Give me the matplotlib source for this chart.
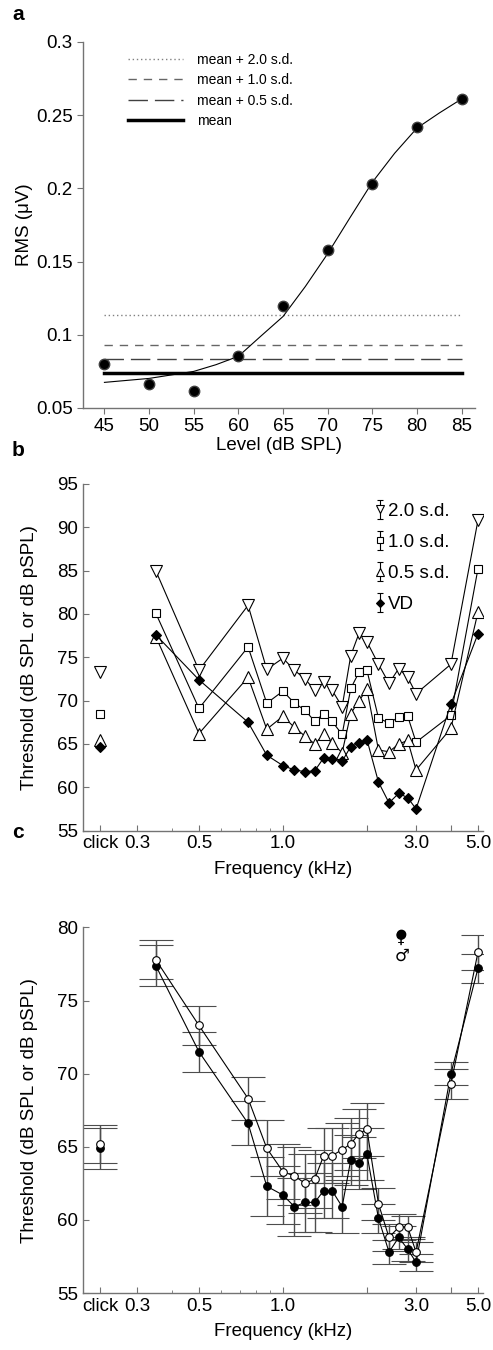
import numpy as np
import matplotlib
matplotlib.use('Agg')
import matplotlib.pyplot as plt
from matplotlib.ticker import FixedLocator, FormatStrFormatter

plt.rcParams['font.family'] = ['Liberation Sans', 'DejaVu Sans']
plt.rcParams['font.size'] = 13.5

# ---- panel a : RMS vs level ----
levels = [45, 50, 55, 60, 65, 70, 75, 80, 85]
rms = [0.0803, 0.0664, 0.0614, 0.0857, 0.1194, 0.1577, 0.2030, 0.2417, 0.2611]
fit_levels = [45, 50, 55, 57.5, 60, 62.5, 65, 67.5, 70, 72.5, 75, 77.5, 80, 82.5, 85]
fit_rms = [0.0675, 0.0702, 0.0750, 0.0796, 0.0853, 0.0990, 0.1125, 0.1330, 0.1554,
           0.1800, 0.2042, 0.2240, 0.2412, 0.2515, 0.2611]
crit_labels = ['mean + 2.0 s.d.', 'mean + 1.0 s.d.', 'mean + 0.5 s.d.', 'mean']
crit_values = [0.1133, 0.0933, 0.0835, 0.0739]

# ---- panel b : thresholds by criterion ----
freqs = [0.35, 0.5, 0.75, 0.875, 1.0, 1.1, 1.2, 1.3, 1.4, 1.5, 1.63, 1.75, 1.875,
         2.0, 2.2, 2.4, 2.6, 2.8, 3.0, 4.0, 5.0]
click_x = 0.221
sd20 = [85.0, 73.5, 81.0, 73.6, 74.9, 73.5, 72.5, 71.2, 72.1, 71.2, 69.3, 75.2, 77.8,
        76.8, 74.2, 72.0, 73.7, 72.7, 70.8, 74.2, 90.8]
sd10 = [80.1, 69.1, 76.2, 69.7, 71.1, 69.7, 68.9, 67.6, 68.5, 67.6, 66.1, 71.4, 73.3,
        73.5, 68.0, 67.4, 68.1, 68.2, 65.2, 68.3, 85.2]
sd05 = [77.4, 66.2, 72.7, 66.7, 68.2, 66.9, 65.9, 65.0, 66.1, 65.1, 64.0, 68.5, 70.0,
        71.3, 64.3, 64.1, 65.0, 65.4, 62.0, 66.8, 80.2]
vd = [77.6, 72.4, 67.5, 63.7, 62.5, 62.0, 61.8, 61.9, 63.4, 63.3, 63.0, 64.7, 65.1,
      65.5, 60.6, 58.2, 59.3, 58.8, 57.5, 69.6, 77.7]
click_b = [73.3, 68.4, 65.4, 64.7]   # 2.0, 1.0, 0.5 s.d., VD

# ---- panel c : female vs male ----
fem = [77.4, 71.5, 66.6, 62.3, 61.7, 60.9, 61.2, 61.2, 62.0, 62.0, 60.9, 64.1, 63.9,
       64.5, 60.1, 57.8, 58.8, 58.0, 57.1, 70.0, 77.2]
fem_err = [1.4, 1.35, 1.5, 2.0, 2.0, 2.0, 2.0, 2.0, 1.9, 1.9, 1.8, 1.7, 1.8,
           1.8, 1.0, 0.8, 0.8, 0.8, 0.6, 0.8, 1.0]
male = [77.8, 73.3, 68.3, 64.9, 63.3, 63.0, 62.5, 62.8, 64.4, 64.4, 64.8, 65.2, 65.9,
        66.2, 61.1, 58.8, 59.5, 59.5, 57.8, 69.3, 78.3]
male_err = [1.35, 1.35, 1.5, 1.9, 1.9, 2.0, 2.0, 2.0, 1.9, 1.9, 1.8, 1.8, 1.7,
            1.8, 1.1, 0.9, 0.9, 0.8, 0.7, 1.0, 1.2]
click_fem, click_fem_err = 64.9, 1.4
click_male, click_male_err = 65.2, 1.3

freq_ticks = [click_x, 0.3, 0.5, 1.0, 2.0, 3.0, 4.0, 5.0]
freq_ticklabels = ['click', '0.3', '0.5', '1.0', '', '3.0', '', '5.0']
freq_minor = [0.4, 0.6, 0.7, 0.8, 0.9]

spine_col = '0.45'

fig = plt.figure(figsize=(4.93, 13.5), dpi=100)
W, H = 493.0, 1350.0


def add_ax(l, r, t, b):
    return fig.add_axes([l / W, 1 - b / H, (r - l) / W, (b - t) / H])


def style(ax, direction):
    for s in ['top', 'right']:
        ax.spines[s].set_visible(False)
    for s in ['left', 'bottom']:
        ax.spines[s].set_color(spine_col)
        ax.spines[s].set_linewidth(1.0)
    ax.tick_params(which='both', direction=direction, color=spine_col, labelsize=13.5)
    ax.tick_params(which='major', length=4)
    ax.tick_params(which='minor', length=2.5)


def freq_axis(ax):
    ax.set_xscale('log')
    ax.set_xlim(0.192, 5.2)
    ax.xaxis.set_major_locator(FixedLocator(freq_ticks))
    ax.set_xticklabels(freq_ticklabels)
    ax.xaxis.set_minor_locator(FixedLocator(freq_minor))
    ax.xaxis.set_minor_formatter(plt.NullFormatter())
    ax.set_xlabel('Frequency (kHz)', fontsize=13.5, labelpad=6)
    ax.set_ylabel('Threshold (dB SPL or dB pSPL)', fontsize=13.5, labelpad=14)


# ===== a =====
ax = add_ax(83, 475, 42, 408)
style(ax, 'out')
styles = [dict(color='0.5', lw=1.0, ls=(0, (1, 2))),
          dict(color='0.4', lw=1.0, ls=(0, (6, 5))),
          dict(color='0.25', lw=1.0, ls=(0, (14, 5))),
          dict(color='black', lw=2.5, ls='-')]
for lab, val, st in zip(crit_labels, crit_values, styles):
    ax.plot([levels[0], levels[-1]], [val, val], label=lab, **st)
ax.plot(fit_levels, fit_rms, color='black', lw=0.8)
ax.plot(levels, rms, 'o', color='black', ms=7.5, mec='0.25')
ax.set_xlim(42.6, 86.5)
ax.set_ylim(0.05, 0.3)
ax.set_xticks(levels)
ax.set_yticks([0.05, 0.1, 0.15, 0.2, 0.25, 0.3])
ax.yaxis.set_major_formatter(FormatStrFormatter('%g'))
ax.set_xlabel('Level (dB SPL)', fontsize=13.5, labelpad=1)
ax.set_ylabel('RMS (\u03bcV)', fontsize=13.5, labelpad=2)
ax.legend(loc='upper left', bbox_to_anchor=(0.1, 0.985), frameon=False, fontsize=10,
          handlelength=4.0, handletextpad=1.0, labelspacing=0.45, borderaxespad=0)

# ===== b =====
ax = add_ax(83, 482.7, 484, 830.6)
style(ax, 'in')
mk = [('v', sd20, click_b[0], 8, 'white', '2.0 s.d.'),
      ('s', sd10, click_b[1], 6, 'white', '1.0 s.d.'),
      ('^', sd05, click_b[2], 8, 'white', '0.5 s.d.'),
      ('D', vd, click_b[3], 5.5, 'black', 'VD')]
handles = []
for m, ys, cy, ms, fc, lab in mk:
    ax.plot(freqs, ys, '-', marker=m, color='black', lw=0.8, ms=ms, mfc=fc, mec='black',
            mew=0.8)
    ax.plot([click_x], [cy], marker=m, ls='none', ms=ms, mfc=fc, mec='black', mew=0.8)
    h = ax.errorbar([np.nan], [np.nan], yerr=[1], fmt=m, ms=ms * 0.75, mfc=fc,
                    mec='black', mew=0.8, ecolor='black', elinewidth=0.8, capsize=2,
                    label=lab)
    handles.append(h)
ax.set_ylim(55, 95)
ax.set_yticks(range(55, 96, 5))
freq_axis(ax)
ax.legend(handles=handles, loc='upper left', bbox_to_anchor=(0.71, 0.968), frameon=False,
          fontsize=13.5, handlelength=0.6, handletextpad=0.15, labelspacing=0.75,
          borderaxespad=0)

# ===== c =====
ax = add_ax(83, 482.7, 927.5, 1293)
style(ax, 'in')
eb = dict(ecolor='0.3', elinewidth=1.0, capsize=12, capthick=1.0, color='black', lw=0.8,
          ms=5.5, mec='black', mew=0.8)
ax.errorbar(freqs, fem, yerr=fem_err, fmt='-o', mfc='black', **eb)
ax.errorbar(freqs, male, yerr=male_err, fmt='-o', mfc='white', **eb)
ax.errorbar([click_x], [click_fem], yerr=[click_fem_err], fmt='o', mfc='black', **eb)
ax.errorbar([click_x], [click_male], yerr=[click_male_err], fmt='o', mfc='white', **eb)
ax.set_ylim(55, 80)
ax.set_yticks(range(55, 81, 5))
freq_axis(ax)
# sex symbols legend
ax.text(0.795, 0.971, '\u2640', transform=ax.transAxes, ha='center', va='center',
        fontsize=12, family='DejaVu Sans')
ax.plot([0.795], [0.982], 'o', ms=6, color='black', transform=ax.transAxes)
ax.text(0.798, 0.922, '\u2642', transform=ax.transAxes, ha='center', va='center',
        fontsize=12, family='DejaVu Sans')

for lab, y in zip(['a', 'b', 'c'], [14, 451, 833]):
    fig.text(18 / W, 1 - y / H, lab, fontsize=15, fontweight='bold', ha='center',
             va='center')

fig.savefig('out.png', dpi=100)
